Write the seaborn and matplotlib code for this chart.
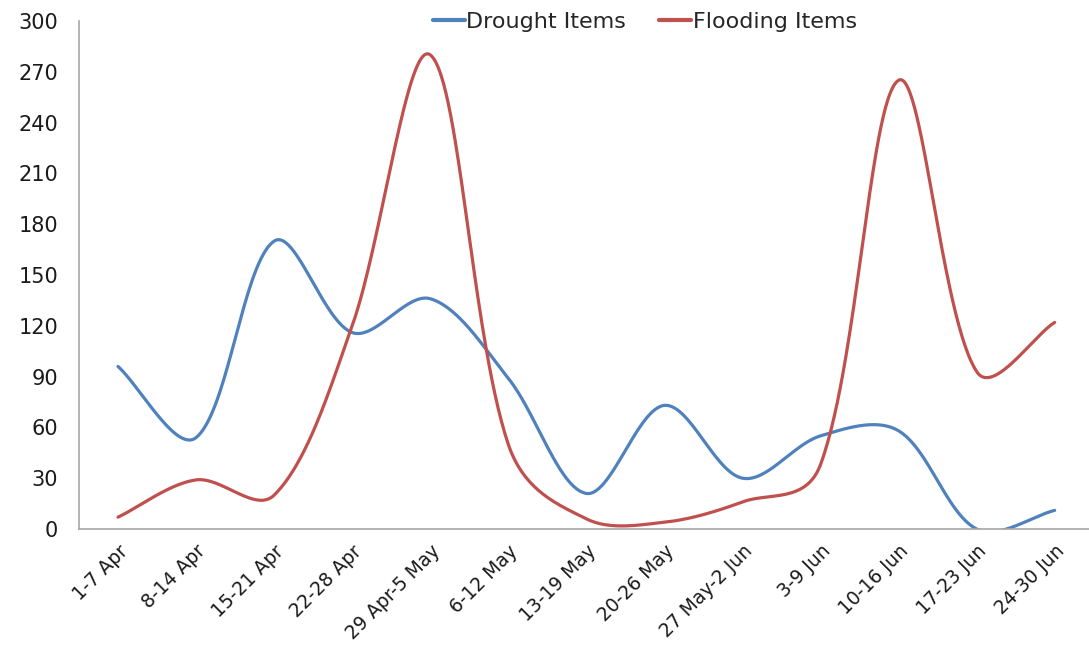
import numpy as np
import pandas as pd
import matplotlib
matplotlib.use("Agg")
import matplotlib.pyplot as plt
import seaborn as sns

weeks = ["1-7 Apr", "8-14 Apr", "15-21 Apr", "22-28 Apr", "29 Apr-5 May",
         "6-12 May", "13-19 May", "20-26 May", "27 May-2 Jun", "3-9 Jun",
         "10-16 Jun", "17-23 Jun", "24-30 Jun"]
drought = [96, 54, 170, 116, 136, 89, 21, 73, 30, 55, 58, 0, 11]
flooding = [7, 29, 20, 120, 280, 50, 6, 4, 16, 38, 265, 93, 122]
y_ticks = [0, 30, 60, 90, 120, 150, 180, 210, 240, 270, 300]

BLUE = "#4F81BD"
RED = "#C0504D"

# screen scale used for the smoothing (pixels per x step / per y unit)
SX, SY = 78.0, 508.0 / 300.0
UNIFORM = 0.3  # share of the even split in the handle weighting


def smooth(values, steps=60):
    """Cubic Bezier through every point. The tangent at each point follows its
    neighbours; it is split between the two sides partly evenly and partly in
    proportion to the length of each adjacent segment (in screen space)."""
    p = np.column_stack([np.arange(len(values), dtype=float) * SX,
                         np.asarray(values, float) * SY])
    n = len(p)
    seg_len = np.linalg.norm(np.diff(p, axis=0), axis=1)
    out_h, in_h = [None] * n, [None] * n
    for i in range(n):
        a = p[i - 1] if i > 0 else p[i]
        b = p[i + 1] if i < n - 1 else p[i]
        d = (b - a) / 3.0
        l_in = seg_len[i - 1] if i > 0 else 0.0
        l_out = seg_len[i] if i < n - 1 else 0.0
        tot = l_in + l_out
        w_out = UNIFORM * 0.5 + (1 - UNIFORM) * l_out / tot
        w_in = UNIFORM * 0.5 + (1 - UNIFORM) * l_in / tot
        out_h[i] = p[i] + d * w_out
        in_h[i] = p[i] - d * w_in
    xs, ys = [], []
    for i in range(n - 1):
        p1, p2 = p[i], p[i + 1]
        c1, c2 = out_h[i], in_h[i + 1]
        t = np.linspace(0, 1, steps, endpoint=(i == n - 2))[:, None]
        seg = ((1 - t) ** 3) * p1 + 3 * ((1 - t) ** 2) * t * c1 + 3 * (1 - t) * t ** 2 * c2 + t ** 3 * p2
        xs.append(seg[:, 0] / SX)
        ys.append(seg[:, 1] / SY)
    return np.concatenate(xs), np.concatenate(ys)


frames = []
for name, vals in [("Drought Items", drought), ("Flooding Items", flooding)]:
    sx, sy = smooth(vals)
    frames.append(pd.DataFrame({"x": sx, "y": sy, "series": name}))
df = pd.concat(frames, ignore_index=True)

sns.set_theme(style="white")
plt.rcParams["font.family"] = ["DejaVu Sans"]

fig = plt.figure(figsize=(10.89, 6.55), dpi=100)
ax = fig.add_axes([79 / 1089, 1 - 529 / 655, 1 - 79 / 1089, (529 - 21) / 655])

sns.lineplot(data=df, x="x", y="y", hue="series", sort=False, estimator=None,
             palette={"Drought Items": BLUE, "Flooding Items": RED},
             linewidth=2.3, ax=ax, legend=True)

ax.set_xlim(-0.5, 12.44)
ax.set_ylim(0, 300)
ax.set_yticks(y_ticks)
ax.set_yticklabels([str(v) for v in y_ticks], fontsize=15, color="#1a1a1a")
ax.set_xticks(range(len(weeks)))
ax.set_xticklabels(weeks, rotation=45, ha="right", rotation_mode="anchor",
                   fontsize=13.5, color="#1a1a1a")
ax.tick_params(axis="y", length=0, pad=15)
ax.tick_params(axis="x", length=0, pad=9)
ax.set_xlabel("")
ax.set_ylabel("")

for side in ["top", "right"]:
    ax.spines[side].set_visible(False)
for side in ["left", "bottom"]:
    ax.spines[side].set_color("#a6a6a6")
    ax.spines[side].set_linewidth(1.2)

handles, labels = ax.get_legend_handles_labels()
for h in handles:
    h.set_linewidth(3)
ax.legend(handles, labels, loc="center", bbox_to_anchor=(0.592, 1 - 22 / 655),
          bbox_transform=fig.transFigure, ncol=2, frameon=False, fontsize=16,
          handlelength=1.45, handletextpad=0.05, columnspacing=1.5)

fig.savefig("out.png", dpi=100)
